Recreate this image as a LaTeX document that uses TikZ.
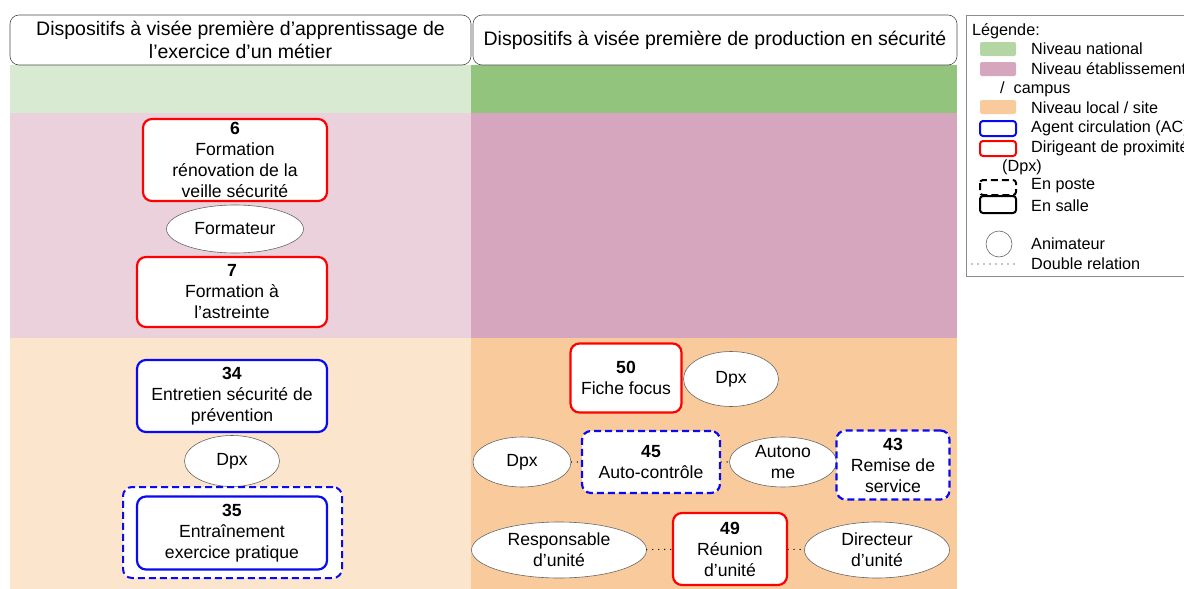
\documentclass[tikz,border=0pt]{standalone}
\usepackage{fontspec}
\setmainfont{Liberation Sans}
\usetikzlibrary{shapes.geometric,positioning}

\definecolor{natlight}{HTML}{D9EAD3}
\definecolor{natdark}{HTML}{93C47D}
\definecolor{etablight}{HTML}{EAD1DC}
\definecolor{etabdark}{HTML}{D5A6BD}
\definecolor{locallight}{HTML}{FCE5CD}
\definecolor{localdark}{HTML}{F9CB9C}
\definecolor{dpxred}{HTML}{FF0000}
\definecolor{acblue}{HTML}{0A0AF0}

\begin{document}
\begin{tikzpicture}[x=1pt, y=-1pt,
    every node/.style={font=\fontsize{17.6}{21}\selectfont, align=center},
    header/.style={draw=black!70, rounded corners=9pt, line width=0.6pt, fill=white,
      inner sep=0pt, font=\fontsize{19.5}{23}\selectfont},
    acteur/.style={draw, rounded corners=9pt, line width=2.2pt, fill=white, inner sep=0pt},
    dpxbox/.style={acteur, draw=dpxred},
    acbox/.style={acteur, draw=acblue},
    enposte/.style={dash pattern=on 7pt off 4pt},
    anim/.style={ellipse, draw=black!60, fill=white, line width=0.6pt, inner sep=0pt},
    doublerel/.style={line width=1.4pt, line cap=round, dash pattern=on 0pt off 6pt},
    legtext/.style={anchor=west, inner sep=0pt, font=\fontsize{16.2}{19}\selectfont}
  ]
    \useasboundingbox (0,0) rectangle (1184,589);
    \clip (0,0) rectangle (1184,589);
    % bands
    \fill[natlight]   (10,65)  rectangle (471,113);
    \fill[natdark]    (471,65) rectangle (957,113);
    \fill[etablight]  (10,113)  rectangle (471,338);
    \fill[etabdark]   (471,113) rectangle (957,338);
    \fill[locallight] (10,338)  rectangle (471,589);
    \fill[localdark]  (471,338) rectangle (957,589);
    % headers
    \node[header, minimum width=461, minimum height=50] (hd-appr) at (240.5,40)
    {Dispositifs à visée première d’apprentissage de\\l’exercice d’un métier};
    \node[header, minimum width=484, minimum height=50] (hd-prod) at (715,40)
    {Dispositifs à visée première de production en sécurité};
    % niveau etablissement
    \node[dpxbox, minimum width=184, minimum height=82] (dev-6) at (235,160)
    {\textbf{6}\\Formation\\rénovation de la\\veille sécurité};
    \node[anim, minimum width=137, minimum height=48] (formateur) at (235,229) {Formateur};
    \node[dpxbox, minimum width=190, minimum height=70] (dev-7) at (232,292)
    {\textbf{7}\\Formation à\\l’astreinte};
    % niveau local, apprentissage
    \node[acbox, minimum width=190, minimum height=72] (dev-34) at (232,396)
    {\textbf{34}\\Entretien sécurité de\\prévention};
    \node[anim, minimum width=95, minimum height=51] (dpx-a) at (232,461) {Dpx};
    \node[acbox, draw=acblue, fill=white, enposte, line width=2pt,
      minimum width=219, minimum height=91] (poste-35) at (232.5,532.5) {};
    \node[acbox, minimum width=190, minimum height=73] (dev-35) at (232,533)
    {\textbf{35}\\Entraînement\\exercice pratique};
    % niveau local, production
    \node[dpxbox, minimum width=111, minimum height=69] (dev-50) at (626,378)
    {\textbf{50}\\Fiche focus};
    \node[anim, minimum width=95, minimum height=55] (dpx-b) at (731,379) {Dpx};
    \node[anim, minimum width=98, minimum height=50] (dpx-c) at (522,462) {Dpx};
    \node[acbox, enposte, minimum width=138, minimum height=62] (dev-45) at (651,462)
    {\textbf{45}\\Auto-contrôle};
    \node[anim, minimum width=107, minimum height=50] (autonome) at (783,462) {Autono\\me};
    \node[acbox, enposte, minimum width=113, minimum height=69] (dev-43) at (893,465)
    {\textbf{43}\\Remise de\\service};
    \node[anim, minimum width=175, minimum height=56] (resp) at (559,550) {Responsable\\d’unité};
    \node[dpxbox, minimum width=114, minimum height=72] (dev-49) at (730,549)
    {\textbf{49}\\Réunion\\d’unité};
    \node[anim, minimum width=145, minimum height=56] (dir) at (877,550) {Directeur\\d’unité};
    % double relations
    \draw[doublerel] (dpx-c) -- (dev-45);
    \draw[doublerel] (dev-45) -- (autonome);
    \draw[doublerel] (resp) -- (dev-49);
    \draw[doublerel] (dev-49) -- (dir);
    % legend
    \draw[black!45, line width=0.8pt] (966,15) rectangle (1200,276);
    \node[legtext] (leg-title) at (972,31) {Légende:};
    \fill[natdark!70!white, rounded corners=2pt]  (980,42)  rectangle (1016,56);
    \node[legtext] (leg-nat) at (1031,49) {Niveau national};
    \fill[etabdark, rounded corners=2pt] (980,62) rectangle (1016,76);
    \node[legtext] (leg-etab) at (1031,69) {Niveau établissement};
    \node[legtext] (leg-campus) at (1000,89) {/~~campus};
    \fill[localdark, rounded corners=2pt] (980,100) rectangle (1016,114);
    \node[legtext] (leg-local) at (1031,108) {Niveau local / site};
    \draw[acblue, line width=2pt, rounded corners=3pt] (980,121) rectangle (1016,136);
    \node[legtext] (leg-ac) at (1031,128) {Agent circulation (AC)};
    \draw[dpxred, line width=2pt, rounded corners=3pt] (980,141) rectangle (1016,156);
    \node[legtext] (leg-dpx) at (1031,148) {Dirigeant de proximité};
    \node[legtext] (leg-dpx2) at (1002,167) {(Dpx)};
    \draw[line width=2pt, rounded corners=3pt, enposte] (980,180) rectangle (1016,195);
    \node[legtext] (leg-poste) at (1031,186) {En poste};
    \draw[line width=2pt, rounded corners=3pt] (980,196) rectangle (1016,213);
    \node[legtext] (leg-salle) at (1031,206) {En salle};
    \draw[black!60, line width=0.6pt] (999,244) circle (13);
    \node[legtext] (leg-anim) at (1031,244) {Animateur};
    \coordinate (leg-rel-a) at (972,264);
    \coordinate (leg-rel-b) at (1018,264);
    \draw[doublerel, line width=1.4pt] (leg-rel-a) -- (leg-rel-b);
    \node[legtext] (leg-rel) at (1031,264) {Double relation};
\end{tikzpicture}
\end{document}
